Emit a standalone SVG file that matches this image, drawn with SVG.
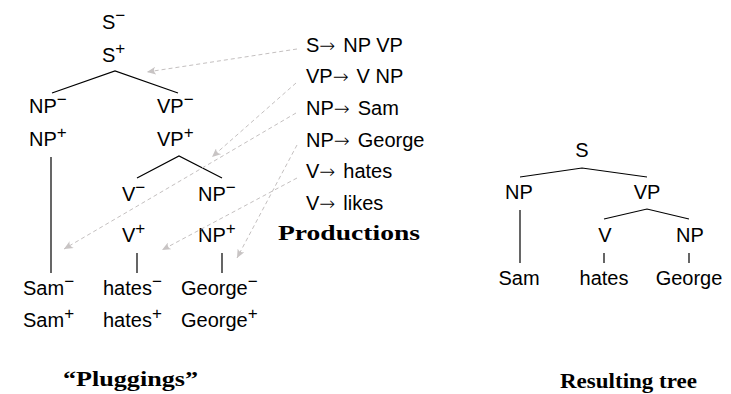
<svg xmlns="http://www.w3.org/2000/svg" width="731" height="394" viewBox="0 0 731 394">
  <style>
    text { font-family: "Liberation Sans", Arial, sans-serif; font-size: 20px; fill: #000; }
    .sup { font-size: 17px; }
    .arr { font-family: "DejaVu Sans", sans-serif; font-size: 19px; font-weight: 200; }
    .cap { font-family: "Liberation Serif", "Times New Roman", serif; font-weight: bold; font-size: 21px; }
    .mid { text-anchor: middle; }
    .edge { stroke: #000; stroke-width: 1.2; fill: none; }
    .plug { stroke: #c4c0c0; stroke-width: 1; stroke-dasharray: 4 3; fill: none; }
  </style>
  <defs>
    <marker id="head" markerUnits="userSpaceOnUse" markerWidth="10" markerHeight="8" refX="9" refY="4" orient="auto">
      <path d="M0,0 Q4,4 0,8 L9,4 Z" fill="#c8c4c4"/>
    </marker>
  </defs>

  <!-- Left tree: pluggings -->
  <g id="p-S"><text x="102" y="29">S<tspan class="sup" dy="-8">−</tspan></text><text x="102" y="62">S<tspan class="sup" dy="-8">+</tspan></text></g>
  <g id="p-NP1"><text x="29" y="113">NP<tspan class="sup" dy="-8">−</tspan></text><text x="29" y="146">NP<tspan class="sup" dy="-8">+</tspan></text></g>
  <g id="p-VP"><text x="157" y="113">VP<tspan class="sup" dy="-8">−</tspan></text><text x="157" y="146">VP<tspan class="sup" dy="-8">+</tspan></text></g>
  <g id="p-V"><text x="122" y="201">V<tspan class="sup" dy="-8">−</tspan></text><text x="122" y="242">V<tspan class="sup" dy="-8">+</tspan></text></g>
  <g id="p-NP2"><text x="198" y="201">NP<tspan class="sup" dy="-8">−</tspan></text><text x="198" y="242">NP<tspan class="sup" dy="-8">+</tspan></text></g>
  <g id="p-Sam"><text x="23" y="295">Sam<tspan class="sup" dy="-8">−</tspan></text><text x="23" y="327">Sam<tspan class="sup" dy="-8">+</tspan></text></g>
  <g id="p-hates"><text x="103" y="295">hates<tspan class="sup" dy="-8">−</tspan></text><text x="103" y="327">hates<tspan class="sup" dy="-8">+</tspan></text></g>
  <g id="p-George"><text x="181" y="295">George<tspan class="sup" dy="-8">−</tspan></text><text x="181" y="327">George<tspan class="sup" dy="-8">+</tspan></text></g>
  <text class="cap" x="63" y="386" textLength="135" lengthAdjust="spacingAndGlyphs">“Pluggings”</text>

  <!-- Productions -->
  <g id="productions">
    <text x="306" y="52">S<tspan class="arr">→</tspan><tspan dx="8">NP VP</tspan></text>
    <text x="306" y="83">VP<tspan class="arr">→</tspan><tspan dx="8">V NP</tspan></text>
    <text x="306" y="115">NP<tspan class="arr">→</tspan><tspan dx="8">Sam</tspan></text>
    <text x="306" y="147">NP<tspan class="arr">→</tspan><tspan dx="8">George</tspan></text>
    <text x="306" y="178">V<tspan class="arr">→</tspan><tspan dx="8">hates</tspan></text>
    <text x="306" y="210">V<tspan class="arr">→</tspan><tspan dx="8">likes</tspan></text>
    <text class="cap" x="278" y="240" textLength="142" lengthAdjust="spacingAndGlyphs">Productions</text>
  </g>

  <!-- Right tree: result -->
  <g id="r-S"><text class="mid" x="582" y="157">S</text></g>
  <g id="r-NP1"><text class="mid" x="519" y="199">NP</text></g>
  <g id="r-VP"><text class="mid" x="647" y="199">VP</text></g>
  <g id="r-V"><text class="mid" x="605" y="242">V</text></g>
  <g id="r-NP2"><text class="mid" x="690" y="242">NP</text></g>
  <g id="r-Sam"><text class="mid" x="519" y="285">Sam</text></g>
  <g id="r-hates"><text class="mid" x="604" y="285">hates</text></g>
  <g id="r-George"><text class="mid" x="689" y="285">George</text></g>
  <text class="cap" x="560" y="388" textLength="137" lengthAdjust="spacingAndGlyphs">Resulting tree</text>

  <!-- Connectors -->
  <g id="connectors">
    <!-- tree edges, left -->
    <path class="edge" d="M52,93 L115,71 L178,93"/>
    <path class="edge" d="M51,157 L51,273"/>
    <path class="edge" d="M137,178 L179,156 L222,178"/>
    <path class="edge" d="M137,253 L137,273 M222,253 L222,273"/>
    <!-- tree edges, right -->
    <path class="edge" d="M520,177 L582,168 L647,177"/>
    <path class="edge" d="M520,210 L520,263"/>
    <path class="edge" d="M604,219 L647,209 L689,219"/>
    <path class="edge" d="M604,253 L604,263 M689,253 L689,263"/>
    <!-- plugging arrows from productions -->
    <line class="plug" x1="297" y1="49" x2="147" y2="72" marker-end="url(#head)"/>
    <line class="plug" x1="296" y1="83" x2="212" y2="157" marker-end="url(#head)"/>
    <line class="plug" x1="296" y1="113" x2="64" y2="249" marker-end="url(#head)"/>
    <line class="plug" x1="297" y1="145" x2="237" y2="258" marker-end="url(#head)"/>
    <line class="plug" x1="297" y1="178" x2="162" y2="250" marker-end="url(#head)"/>
  </g>
</svg>
